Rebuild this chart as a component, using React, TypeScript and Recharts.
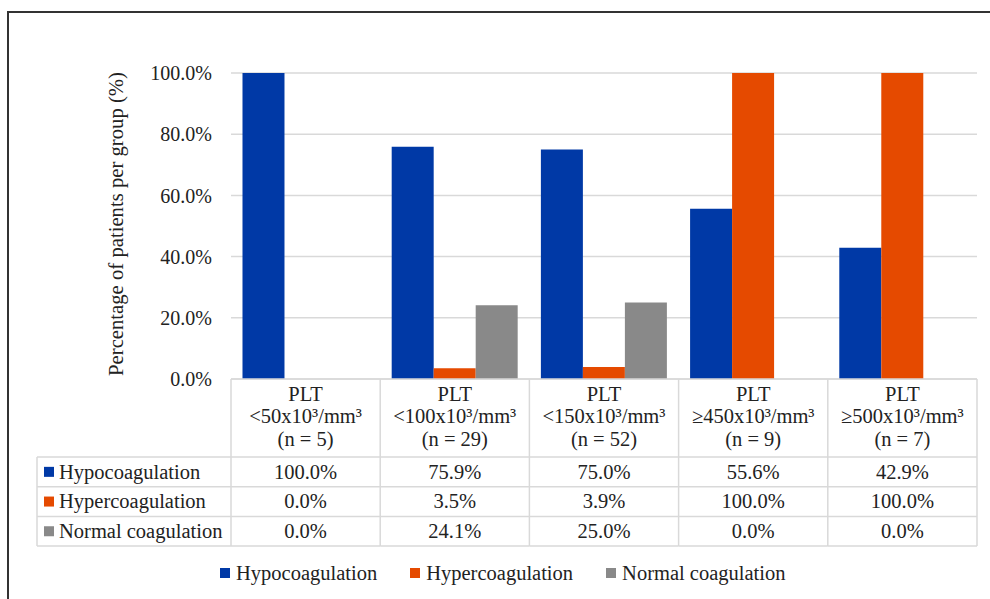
import React from 'react';
import { BarChart, Bar, XAxis, YAxis, CartesianGrid, Legend } from 'recharts';

const groupLabels = ['<50x10³/mm³', '<100x10³/mm³', '<150x10³/mm³', '≥450x10³/mm³', '≥500x10³/mm³'];
const groupCounts = [5, 29, 52, 9, 7];
const hypocoagulation = [100.0, 75.9, 75.0, 55.6, 42.9];
const hypercoagulation = [0.0, 3.5, 3.9, 100.0, 100.0];
const normalCoagulation = [0.0, 24.1, 25.0, 0.0, 0.0];
const yTicks = [0, 20, 40, 60, 80, 100];
const seriesNames = ['Hypocoagulation', 'Hypercoagulation', 'Normal coagulation'];
const seriesKeys = ['hypo', 'hyper', 'normal'];
const seriesColors = ['#0039A6', '#E54A00', '#898989'];
const seriesValues = [hypocoagulation, hypercoagulation, normalCoagulation];

const data = groupLabels.map((label, i) => ({
  name: `PLT ${label} (n = ${groupCounts[i]})`,
  hypo: hypocoagulation[i],
  hyper: hypercoagulation[i],
  normal: normalCoagulation[i],
}));

const FONT = '"Liberation Serif", "Times New Roman", serif';
const TEXT = '#222';
const LINE = '#d9d9d9';
const fmt = (v: number) => `${v.toFixed(1)}%`;
const textStyle = { fontFamily: FONT, fontSize: 20.5, fill: TEXT } as const;

const HEADER_H = 78;
const ROW_H = 29.7;

const TableTick = (props: any) => {
  const { x, y, index, width, visibleTicksCount } = props;
  const total = typeof width === 'number' && width > 0 ? width : 746;
  const colW = total / (visibleTicksCount || 5);
  const left = x - colW / 2;
  const right = x + colW / 2;
  const top = y;
  const rowsTop = top + HEADER_H;
  const bottom = rowsTop + ROW_H * 3;
  const hLines = [0, 1, 2, 3].map((k) => rowsTop + k * ROW_H);
  const rhLeft = left - 194;
  return (
    <g>
      <line x1={right} x2={right} y1={top} y2={bottom} stroke={LINE} strokeWidth={1.5} />
      {index === 0 && <line x1={left} x2={left} y1={top} y2={bottom} stroke={LINE} strokeWidth={1.5} />}
      {hLines.map((hy, k) => (
        <line key={k} x1={left} x2={right} y1={hy} y2={hy} stroke={LINE} strokeWidth={1.5} />
      ))}
      {index === 0 && (
        <g>
          <line x1={rhLeft} x2={rhLeft} y1={rowsTop} y2={bottom} stroke={LINE} strokeWidth={1.5} />
          {hLines.map((hy, k) => (
            <line key={k} x1={rhLeft} x2={left} y1={hy} y2={hy} stroke={LINE} strokeWidth={1.5} />
          ))}
          {seriesNames.map((nm, k) => (
            <g key={nm}>
              <rect x={rhLeft + 7} y={rowsTop + k * ROW_H + ROW_H / 2 - 5} width={10} height={10} fill={seriesColors[k]} />
              <text x={rhLeft + 22} y={rowsTop + k * ROW_H + 21.5} style={textStyle}>
                {nm}
              </text>
            </g>
          ))}
        </g>
      )}
      <text x={x} textAnchor="middle" style={textStyle}>
        <tspan x={x} y={top + 22}>PLT</tspan>
        <tspan x={x} y={top + 44}>{groupLabels[index]}</tspan>
        <tspan x={x} y={top + 66.5}>{`(n = ${groupCounts[index]})`}</tspan>
      </text>
      {seriesValues.map((vals, k) => (
        <text key={k} x={x} y={rowsTop + k * ROW_H + 21.5} textAnchor="middle" style={textStyle}>
          {fmt(vals[index])}
        </text>
      ))}
    </g>
  );
};

const LegendContent = () => (
  <div style={{ display: 'flex', alignItems: 'center', height: 30, paddingLeft: 220, fontFamily: FONT, fontSize: 20.5, color: TEXT }}>
    {seriesNames.map((nm, i) => (
      <div key={nm} style={{ display: 'flex', alignItems: 'center', marginRight: 33 }}>
        <span style={{ display: 'inline-block', width: 10, height: 10, background: seriesColors[i], marginRight: 6 }} />
        <span>{nm}</span>
      </div>
    ))}
  </div>
);

const YLabel = (props: any) => {
  const vb = props.viewBox || { x: 0, y: 73, width: 231, height: 306 };
  const cy = vb.y + vb.height / 2 - 2;
  const cx = 116;
  return (
    <text x={cx} y={cy} transform={`rotate(-90 ${cx} ${cy})`} textAnchor="middle" dominantBaseline="central" style={{ fontFamily: FONT, fontSize: 20.7, fill: TEXT }}>
      Percentage of patients per group (%)
    </text>
  );
};

export default function App() {
  return (
    <div style={{ position: 'relative', width: 990, height: 599, overflow: 'hidden' }}>
      <style>{'html,body{margin:0;padding:0;background:#fff;}'}</style>
      <div style={{ position: 'absolute', left: 7, top: 11, width: 1000, height: 600, borderTop: '2px solid #333', borderLeft: '2px solid #333', boxSizing: 'border-box', pointerEvents: 'none' }} />
      <BarChart
        width={990}
        height={599}
        data={data}
        margin={{ top: 73, right: 13, left: 0, bottom: 11 }}
        barCategoryGap="7.7%"
        barGap={0}
      >
        <CartesianGrid vertical={false} stroke={LINE} strokeWidth={1.5} />
        <XAxis
          dataKey="name"
          height={179}
          axisLine={{ stroke: LINE, strokeWidth: 1.5 }}
          tickLine={false}
          tickSize={0}
          tickMargin={0}
          interval={0}
          tick={<TableTick />}
        />
        <YAxis
          width={231}
          domain={[0, 100]}
          ticks={yTicks}
          tickFormatter={fmt}
          axisLine={false}
          tickLine={false}
          tickSize={0}
          tickMargin={19}
          tick={{ fill: TEXT, fontSize: 20, style: { fontFamily: FONT } }}
          label={{ value: 'Percentage of patients per group (%)', content: <YLabel /> }}
        />
        <Legend verticalAlign="bottom" content={<LegendContent />} />
        {seriesKeys.map((k, i) => (
          <Bar key={k} dataKey={k} name={seriesNames[i]} fill={seriesColors[i]} isAnimationActive={false} />
        ))}
      </BarChart>
    </div>
  );
}
